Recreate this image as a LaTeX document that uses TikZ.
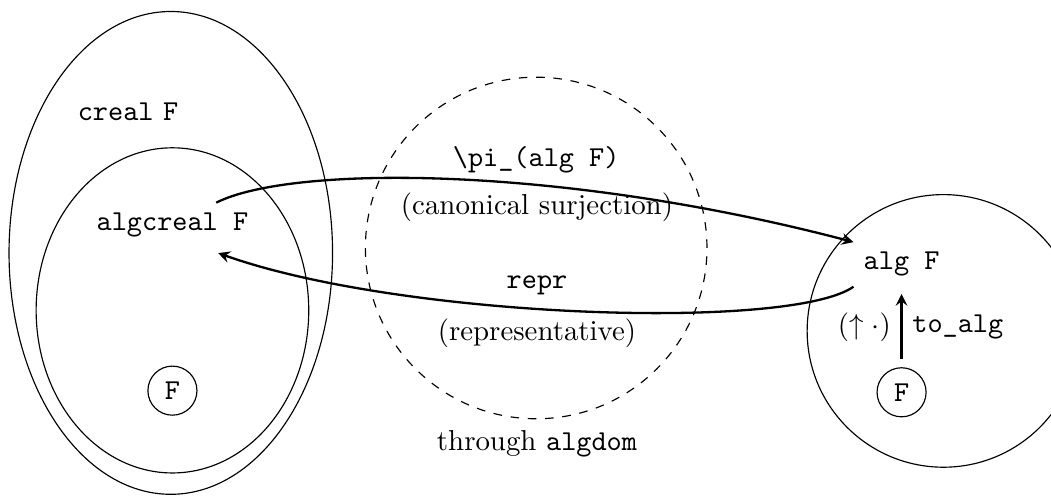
\documentclass[tikz,border=0pt]{standalone}
\usepackage{amsmath,amssymb}
\usetikzlibrary{positioning,calc}

\begin{document}
\begin{tikzpicture}[
        elem/.style={draw, circle, minimum size=17pt, inner sep=0pt},
        region/.style={draw, thin},
        arrow/.style={->, >=stealth, thick}
    ]
        \useasboundingbox (0,0) rectangle (12.80,6.03);

        % regions
        \draw[region] (2.08,2.95) ellipse (1.97 and 2.94);
        \draw[region] (2.10,2.25) ellipse (1.66 and 1.98);
        \draw[region, dashed] (6.53,3.01) circle (2.08);
        \draw[region] (11.49,2.00) circle (1.66);

        \node (creal) at (1.56,4.67) {\texttt{creal} \texttt{F}};
        \node (algcreal) at (2.10,3.29) {\texttt{algcreal F}};
        \node[elem, below=1.44cm of algcreal] (Fl) {\texttt{F}};

        \node (algF) at (10.98,2.81) {\texttt{alg F}};
        \node[elem, below=0.98cm of algF] (Fr) {\texttt{F}};

        \node (pilbl) at (6.53,4.08) {\texttt{\textbackslash pi\_(alg F)}};
        \node (canon) at (6.54,3.50) {(canonical surjection)};
        \node (reprlbl) at (6.54,2.56) {\texttt{repr}};
        \node (reprtxt) at (6.54,1.97) {(representative)};
        \node (through) at (6.54,0.63) {through \texttt{algdom}};

        \draw[arrow] (algcreal.27) .. controls +(0.91,0.46) and +(-3.58,0.94) .. (algF.north west);
        \draw[arrow] (algF.south west) .. controls +(-0.77,-0.54) and +(2.25,-0.80) .. ([yshift=-2pt]algcreal.-26);
        \draw[arrow, shorten <=2.8pt, shorten >=2.5pt] (Fr) -- node[left] {$(\uparrow\cdot)$} node[right] {\texttt{to\_alg}} (algF);
    \end{tikzpicture}
\end{document}
